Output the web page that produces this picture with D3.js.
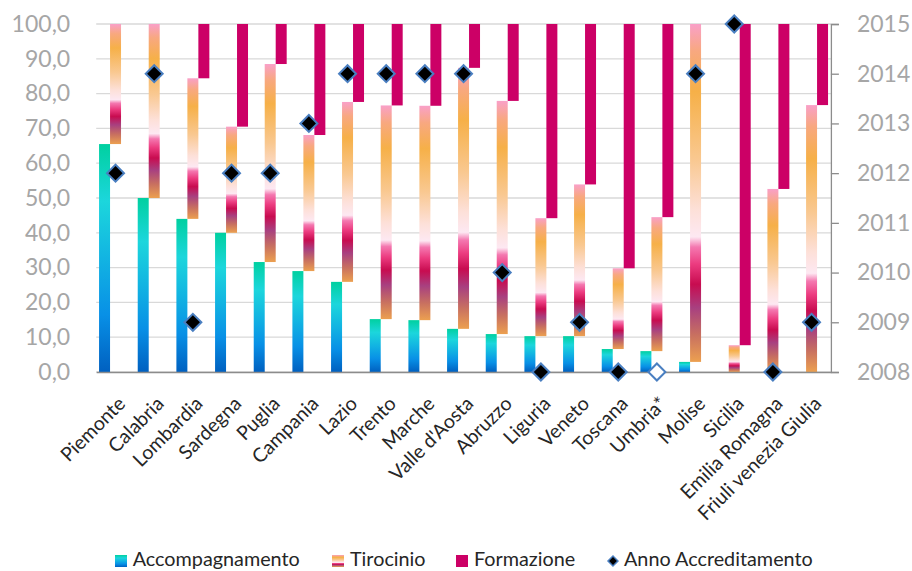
<!DOCTYPE html>
<html>
<head>
<meta charset="utf-8">
<script src="https://cdn.jsdelivr.net/npm/d3@7/dist/d3.min.js"></script>
<style>
  html, body { margin: 0; padding: 0; background: #fff; }
  svg { display: block; font-family: Lato, "Open Sans", sans-serif; }
</style>
</head>
<body>
<svg id="chart" width="912" height="571"></svg>
<script>
const categories = ["Piemonte","Calabria","Lombardia","Sardegna","Puglia","Campania","Lazio","Trento","Marche","Valle d'Aosta","Abruzzo","Liguria","Veneto","Toscana","Umbria*","Molise","Sicilia","Emilia Romagna","Friuli venezia Giulia"];
const accompagnamento = [65.5, 50.0, 44.0, 40.0, 31.6, 29.0, 25.9, 15.2, 14.9, 12.4, 10.9, 10.3, 10.3, 6.6, 6.0, 2.9, 0, 0, 0];
const tirocinio       = [34.5, 50.0, 40.4, 30.5, 56.9, 39.1, 51.7, 61.4, 61.6, 75.0, 67.0, 33.9, 43.6, 23.2, 38.5, 97.1, 7.7, 52.6, 76.7];
const formazione      = [0, 0, 15.6, 29.5, 11.5, 31.9, 22.4, 23.4, 23.5, 12.6, 22.1, 55.8, 46.1, 70.2, 55.5, 0, 92.3, 47.4, 23.3];
const annoAccreditamento = [2012, 2014, 2009, 2012, 2012, 2013, 2014, 2014, 2014, 2014, 2010, 2008, 2009, 2008, 2008, 2014, 2015, 2008, 2009];
const annoVuoto = ["Umbria*"];
const yTicks = [0, 10, 20, 30, 40, 50, 60, 70, 80, 90, 100];
const yearTicks = [2008, 2009, 2010, 2011, 2012, 2013, 2014, 2015];
const seriesNames = ["Accompagnamento", "Tirocinio", "Formazione", "Anno Accreditamento"];

const svg = d3.select("#chart");
const L = 96.2, R = 830.9, T = 24, B = 372;

const defs = svg.append("defs");
function grad(id, stops) {
  const g = defs.append("linearGradient").attr("id", id)
    .attr("x1", 0).attr("y1", 0).attr("x2", 0).attr("y2", 1);
  stops.forEach(s => g.append("stop").attr("offset", s[0]).attr("stop-color", s[1]));
}
grad("gAcc", [[0, "#00d0a0"], [0.25, "#1cd6dc"], [0.5, "#12b4e2"], [0.75, "#0890e6"], [1, "#0060c0"]]);
grad("gTir", [[0, "#f9a0c8"], [0.08, "#f8a880"], [0.2, "#f6b048"], [0.4, "#f9c890"], [0.55, "#fde0d8"],
              [0.63, "#fde8f2"], [0.66, "#f478b0"], [0.71, "#ec3c80"], [0.77, "#c80c50"], [0.84, "#a84080"],
              [0.92, "#c87060"], [1, "#eca050"]]);
const fills = ["url(#gAcc)", "url(#gTir)", "#cc0066"];

const x = d3.scaleBand().domain(categories).range([L, R]).padding(0);
const xs = d3.scaleBand().domain(seriesNames.slice(0, 3)).range([0, x.bandwidth()]).paddingInner(0).paddingOuter(0.26);
const y = d3.scaleLinear().domain([0, 100]).range([B, T]);
const y2 = d3.scaleLinear().domain([2008, 2015]).range([B, T]);

// gridlines
svg.append("g").selectAll("line").data(yTicks).join("line")
  .attr("x1", L).attr("x2", R).attr("y1", d => y(d)).attr("y2", d => y(d))
  .attr("stroke", "#d9d9d9").attr("stroke-width", 1.3);

// left axis
const fmt = d => d3.format(".1f")(d).replace(".", ",");
const gl = svg.append("g").attr("transform", `translate(${L},0)`)
  .call(d3.axisLeft(y).tickValues(yTicks).tickFormat(fmt).tickSize(0).tickPadding(26));
gl.select(".domain").remove();
gl.selectAll("text").attr("fill", "#a6a6a6").style("font-size", "23px").style("font-family", "Lato");

// bars
const rows = categories.map((c, i) => {
  const a = accompagnamento[i], t = tirocinio[i], f = formazione[i];
  return [
    { c, s: seriesNames[0], y0: 0, y1: a, k: 0 },
    { c, s: seriesNames[1], y0: a, y1: a + t, k: 1 },
    { c, s: seriesNames[2], y0: a + t, y1: a + t + f, k: 2 }
  ];
}).flat();
svg.append("g").selectAll("rect").data(rows).join("rect")
  .attr("x", d => x(d.c) + xs(d.s))
  .attr("width", xs.bandwidth())
  .attr("y", d => y(d.y1))
  .attr("height", d => Math.max(0, y(d.y0) - y(d.y1)))
  .attr("fill", d => fills[d.k]);

// bottom axis
const gb = svg.append("g").attr("transform", `translate(0,${B})`)
  .call(d3.axisBottom(x).tickSize(0).tickFormat(""));
gb.select(".domain").attr("stroke", "#8c8c8c").attr("stroke-width", 1.6);
gb.selectAll(".tick text").remove();
svg.append("g").selectAll("text").data(categories).join("text")
  .attr("transform", d => `translate(${x(d) + x.bandwidth() / 2 + 11},${B + 33}) rotate(-45)`)
  .attr("text-anchor", "end")
  .attr("fill", "#262626")
  .style("font-size", "19.5px")
  .text(d => d);

// right axis
const gr = svg.append("g").attr("transform", `translate(${R},0)`)
  .call(d3.axisRight(y2).tickValues(yearTicks).tickFormat(d3.format("d")).tickSize(8).tickPadding(18));
gr.select(".domain").attr("stroke", "#8c8c8c").attr("stroke-width", 1.3);
gr.selectAll(".tick line").attr("stroke", "#8c8c8c").attr("stroke-width", 1.3);
gr.selectAll("text").attr("fill", "#a6a6a6").style("font-size", "23px").style("font-family", "Lato");

// diamonds
const diamond = d3.symbol().type(d3.symbolSquare).size(144);
svg.append("g").selectAll("path").data(categories).join("path")
  .attr("d", diamond)
  .attr("transform", (d, i) => `translate(${x(d) + x.bandwidth() / 2},${y2(annoAccreditamento[i])}) rotate(45)`)
  .attr("fill", d => annoVuoto.includes(d) ? "#ffffff" : "#000000")
  .attr("stroke", "#4a7fc1").attr("stroke-width", 2);

// legend
const legendItems = [
  { name: seriesNames[0], type: "rect", fill: fills[0], mx: 115, tx: 132.7 },
  { name: seriesNames[1], type: "rect", fill: fills[1], mx: 332, tx: 350 },
  { name: seriesNames[2], type: "rect", fill: fills[2], mx: 456, tx: 474 },
  { name: seriesNames[3], type: "diamond", fill: "#000", mx: 613, tx: 624 }
];
const lg = svg.append("g");
const ly = 561;
legendItems.forEach(it => {
  if (it.type === "rect") {
    lg.append("rect").attr("x", it.mx).attr("y", ly - 6).attr("width", 12).attr("height", 12).attr("fill", it.fill);
  } else {
    lg.append("path").attr("d", d3.symbol().type(d3.symbolSquare).size(49))
      .attr("transform", `translate(${it.mx},${ly}) rotate(45)`)
      .attr("fill", "#000").attr("stroke", "#4a7fc1").attr("stroke-width", 1.5);
  }
  lg.append("text").attr("x", it.tx).attr("y", 565.5)
    .attr("fill", "#262626").style("font-size", "19.8px").text(it.name);
});
</script>
</body>
</html>
